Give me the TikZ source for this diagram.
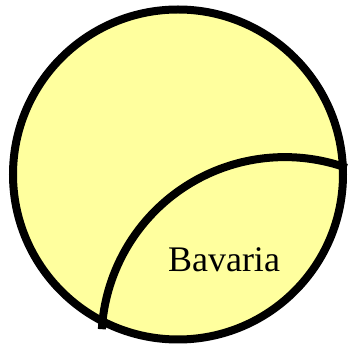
\documentclass[tikz,border=0pt]{standalone}
\usepackage{fontspec}
\setmainfont{Liberation Serif}
\definecolor{stateYellow}{HTML}{FFFF9E}

\begin{document}
\begin{tikzpicture}[
  x=1pt, y=1pt,
  line cap=butt,
  border/.style={black, line width=8pt},
  every node/.style={font=\fontsize{36}{40}\selectfont}
]
  \useasboundingbox (0,0) rectangle (349,345);

  \coordinate (C) at (178,170.5);
  \coordinate (K) at (284.8,4.6);

  % Country disc
  \filldraw[border, fill=stateYellow] (C) circle (165);

  % Inner border line (arc of a larger circle)
  \draw[border] (K) ++(176.5:183.3) arc[start angle=176.5, end angle=70.3, radius=183.3];

  % Region label
  \node[anchor=base] (bav) at (224,73) {Bavaria};
\end{tikzpicture}
\end{document}
